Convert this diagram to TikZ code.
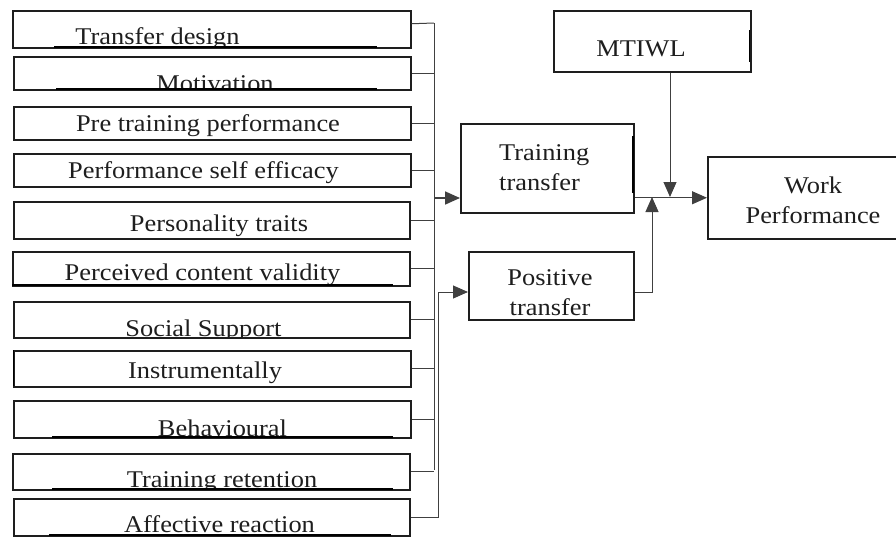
\documentclass[tikz,border=0pt]{standalone}
\usepackage{fontspec}
\setmainfont{Liberation Serif}[FakeStretch=1.1]
\usetikzlibrary{arrows.meta}
\definecolor{ink}{HTML}{1E1E1E}
\definecolor{wire}{HTML}{404040}
\begin{document}
\begin{tikzpicture}[x=1pt,y=-1pt,
  box/.style={draw=ink, line width=1.5pt, inner sep=0pt, anchor=north west},
  lbl/.style={anchor=base, inner sep=0pt, text depth=0pt, font=\fontsize{24}{28}\selectfont, text=ink},
  conn/.style={draw=wire, line width=1pt},
  arr/.style={conn, -{Triangle[length=15pt,width=13pt]}},
  uline/.style={draw=black, line width=1.9pt}]
\useasboundingbox (0,0) rectangle (896,536);

% left boxes: name, x, width, ytop, height, text x, baseline, text
\newcommand{\lbox}[8]{%
  \node[box, minimum width=#3pt, minimum height=#5pt] (#1) at (#2,#4) {};
  \begin{scope}
    \clip (#1.south west) rectangle (#1.north east);
    \node[lbl] (#1t) at (#6,#7) {#8};
  \end{scope}}
\lbox{b1}{12}{398}{10}{37}{157.5}{44}{Transfer design}
\lbox{b2}{13}{397}{56}{33}{215}{91}{Motivation}
\lbox{b3}{13}{397}{106}{33}{208}{131}{Pre training performance}
\lbox{b4}{13}{397}{153}{33}{203.5}{178}{Performance self efficacy}
\lbox{b5}{13}{396}{201}{37}{219}{231}{Personality traits}
\lbox{b6}{12}{397}{251}{34}{202.5}{280}{Perceived content validity}
\lbox{b7}{13}{396}{301}{36}{203.5}{336}{Social Support}
\lbox{b8}{13}{397}{350}{36}{205}{378}{Instrumentally}
\lbox{b9}{13}{397}{400}{37}{222.5}{436}{Behavioural}
\lbox{b10}{12}{397}{453}{36}{222}{487}{Training retention}
\lbox{b11}{13}{396}{498}{37}{219.5}{532}{Affective reaction}

% underline artefacts
\draw[uline] (54,47) -- (377,47);
\draw[uline] (56,89) -- (377,89);
\draw[uline] (12,285) -- (393,285);
\draw[uline] (52,437) -- (393,437);
\draw[uline] (52,489) -- (393,489);
\draw[uline] (49,535) -- (391,535);
\draw[uline] (13.5,350) -- (13.5,386);

% right-hand boxes
\node[box, minimum width=173pt, minimum height=89pt] (tt) at (460,123) {};
\node[lbl, anchor=base west] (tt1) at (499,160) {Training};
\node[lbl, anchor=base west] (tt2) at (499,190) {transfer};
\draw[uline] (633,136) -- (633,193);

\node[box, minimum width=165pt, minimum height=68pt] (pt) at (468,251) {};
\begin{scope}
  \clip (pt.south west) rectangle (pt.north east);
  \node[lbl] (pt1) at (550,285) {Positive};
  \node[lbl] (pt2) at (550,315) {transfer};
\end{scope}

\node[box, minimum width=197pt, minimum height=61pt] (mt) at (553,10) {};
\node[lbl] (mt1) at (641,56) {MTIWL};
\draw[uline] (749.5,30) -- (749.5,62);

\node[box, minimum width=195pt, minimum height=82pt] (wp) at (707,156) {};
\node[lbl] (wp1) at (813,193) {Work};
\node[lbl] (wp2) at (813,223) {Performance};

% bus on the left
\coordinate (busT) at (434,23);
\coordinate (busB) at (434,470);
\draw[conn] (busT) -- (busB);
\draw[conn] ([yshift=5.5pt]b1.east) -- (busT);
\foreach \b in {b2,b3,b4,b5,b6,b7,b8,b9,b10}
  \draw[conn] (\b.east) -- (\b.east -| busT);

\coordinate (ttin) at (460,198);
\draw[arr, line width=1.7pt] (busT |- ttin) -- (ttin);

\coordinate (ptin) at (468,292);
\coordinate (k) at (438,0);
\draw[arr] (b11.east) -| (k |- ptin) -- (ptin);

% right side
\coordinate (j1) at (670,197);
\coordinate (j2) at (652,197);
\draw[arr] (wp.west -| tt.east) -- (wp.west);
\draw[arr] (mt.south -| j1) -- (j1);
\draw[arr] (pt.east |- ptin) -| (j2);
\end{tikzpicture}
\end{document}
